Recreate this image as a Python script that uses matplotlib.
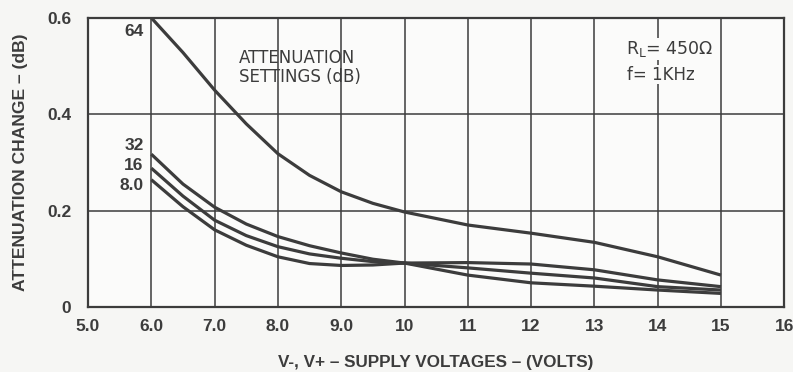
import matplotlib.pyplot as plt
import numpy as np

# supply voltage (V) and attenuation change (dB) per attenuation setting
volts = [6.0, 6.5, 7.0, 7.5, 8.0, 8.5, 9.0, 9.5, 10.0, 11.0, 12.0, 13.0, 14.0, 15.0]
att_64 = [0.600, 0.528, 0.450, 0.380, 0.318, 0.273, 0.239, 0.215, 0.197, 0.170, 0.153, 0.134, 0.104, 0.066]
att_32 = [0.317, 0.255, 0.207, 0.172, 0.146, 0.127, 0.112, 0.099, 0.091, 0.066, 0.050, 0.043, 0.035, 0.028]
att_16 = [0.288, 0.230, 0.180, 0.148, 0.125, 0.110, 0.101, 0.094, 0.091, 0.081, 0.070, 0.060, 0.042, 0.035]
att_8 = [0.264, 0.208, 0.160, 0.128, 0.104, 0.090, 0.086, 0.087, 0.091, 0.092, 0.089, 0.077, 0.056, 0.042]

xticks = [5, 6, 7, 8, 9, 10, 11, 12, 13, 14, 15, 16]
xticklabels = ['5.0', '6.0', '7.0', '8.0', '9.0', '10', '11', '12', '13', '14', '15', '16']
yticks = [0, 0.2, 0.4, 0.6]
yticklabels = ['0', '0.2', '0.4', '0.6']

ink = '#3c3c3c'
bg = '#f6f6f4'
plt.rcParams['font.family'] = ['Liberation Sans', 'DejaVu Sans']

fig = plt.figure(figsize=(7.93, 3.72), dpi=100, facecolor=bg)
ax = fig.add_axes([0.111, 0.175, 0.878, 0.777])
ax.set_facecolor('#fbfbfa')

for y in [0.2, 0.4]:
    ax.axhline(y, color=ink, lw=1.1, zorder=1)
for x in xticks[1:-1]:
    ax.axvline(x, color=ink, lw=1.1, zorder=1)

for vals in [att_64, att_32, att_16, att_8]:
    ax.plot(volts, vals, color=ink, lw=2.3, solid_capstyle='butt',
            solid_joinstyle='round', zorder=3)

ax.set_xlim(5, 16)
ax.set_ylim(0, 0.6)
ax.set_xticks(xticks)
ax.set_xticklabels(xticklabels)
ax.set_yticks(yticks)
ax.set_yticklabels(yticklabels)
ax.tick_params(length=0, colors=ink, labelsize=12.5)
ax.tick_params(axis='x', pad=9)
ax.tick_params(axis='y', pad=12)
for t in ax.get_xticklabels() + ax.get_yticklabels():
    t.set_fontweight('bold')
for s in ax.spines.values():
    s.set_color(ink)
    s.set_linewidth(1.6)

ax.set_xlabel('V-, V+ \u2013 SUPPLY VOLTAGES \u2013 (VOLTS)', fontsize=12.3,
              fontweight='bold', color=ink, labelpad=15)
ax.set_ylabel('ATTENUATION CHANGE \u2013 (dB)', fontsize=12.6,
              fontweight='bold', color=ink, labelpad=14)

# curve labels
lab_kw = dict(ha='right', va='center', fontsize=12.5, fontweight='bold', color=ink)
ax.text(5.88, 0.571, '64', **lab_kw)
ax.text(5.88, 0.336, '32', **lab_kw)
ax.text(5.88, 0.294, '16', **lab_kw)
ax.text(5.88, 0.253, '8.0', **lab_kw)

ann = ['DejaVu Sans']
ax.text(7.38, 0.497, 'ATTENUATION\nSETTINGS (dB)', ha='left', va='center',
        fontsize=12, family=ann, color=ink, linespacing=1.1)
ax.text(13.5, 0.535, r'R$_\mathregular{L}$= 450$\Omega$', ha='left', va='center',
        fontsize=12.5, family=ann, color=ink,
        bbox=dict(facecolor='#fbfbfa', edgecolor='none', pad=0.5), zorder=4)
ax.text(13.52, 0.482, 'f= 1KHz', ha='left', va='center', fontsize=12,
        family=ann, color=ink,
        bbox=dict(facecolor='#fbfbfa', edgecolor='none', pad=0.5), zorder=4)

fig.savefig('out.png', dpi=100, facecolor=bg)
